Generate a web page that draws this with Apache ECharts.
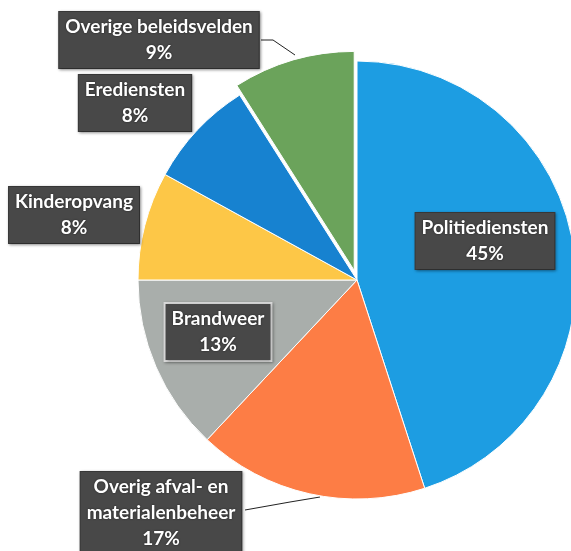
<!DOCTYPE html>
<html>
<head>
<meta charset="utf-8">
<script src="https://cdn.jsdelivr.net/npm/echarts@6/dist/echarts.min.js"></script>
<style>
html,body{margin:0;padding:0;background:#fff;}
#chart{width:571px;height:551px;}
</style>
</head>
<body>
<div id="chart"></div>
<script>
const categories = ['Politiediensten', 'Overig afval- en\nmaterialenbeheer', 'Brandweer', 'Kinderopvang', 'Erediensten', 'Overige beleidsvelden'];
const values = [45, 17, 13, 8, 8, 9];
const colors = ['#1d9de2', '#fd7d45', '#a9aeab', '#fdc747', '#1782d0', '#6ba35b'];
const explodedIndex = 5;

// label centre positions (px) and leader lines
const labelCenters = [[485, 241], [161, 513], [218, 332], [74, 215], [135, 103], [159, 40]];
const leaderLines = {
  1: [[320, 497], [290, 502], [245, 510]],
  5: [[295, 55], [273, 40], [261, 40]]
};

const CX = 357, CY = 280, R = 219, EXPLODE = 10;

// mid-angle of exploded slice (clockwise from 12 o'clock)
const total = values.reduce((a, b) => a + b, 0);
let before = 0;
for (let i = 0; i < explodedIndex; i++) before += values[i];
const midFrac = (before + values[explodedIndex] / 2) / total;
const midAng = Math.PI / 2 - midFrac * 2 * Math.PI; // math angle
const dx = EXPLODE * Math.cos(midAng);
const dy = -EXPLODE * Math.sin(midAng);

const chart = echarts.init(document.getElementById('chart'), null, {renderer: 'canvas'});

const mainData = categories.map((name, i) => ({
  name: name,
  value: values[i],
  itemStyle: i === explodedIndex
    ? {color: 'rgba(0,0,0,0)', borderColor: 'rgba(0,0,0,0)', borderWidth: 0}
    : {color: colors[i]},
  labelLine: {show: !!leaderLines[i]},
  label: i === 2 ? {borderColor: '#d8d8d8', borderWidth: 2} : {}
}));

const explodedData = categories.map((name, i) => ({
  name: name,
  value: values[i],
  itemStyle: i === explodedIndex
    ? {color: colors[i]}
    : {color: 'rgba(0,0,0,0)', borderColor: 'rgba(0,0,0,0)', borderWidth: 0}
}));

chart.setOption({
  backgroundColor: '#ffffff',
  animation: false,
  series: [{
    type: 'pie',
    center: [CX + dx, CY + dy],
    radius: R,
    startAngle: 90,
    clockwise: true,
    silent: true,
    itemStyle: {borderColor: '#ffffff', borderWidth: 1},
    label: {show: false},
    labelLine: {show: false},
    data: explodedData,
    z: 1
  }, {
    type: 'pie',
    center: [CX, CY],
    radius: R,
    startAngle: 90,
    clockwise: true,
    avoidLabelOverlap: false,
    itemStyle: {borderColor: '#ffffff', borderWidth: 1},
    label: {
      show: true,
      position: 'outside',
      formatter: '{b}\n{c}%',
      color: '#ffffff',
      fontFamily: 'Lato',
      fontWeight: 'bold',
      fontSize: 19,
      lineHeight: 26,
      align: 'center',
      backgroundColor: '#484848',
      borderColor: '#3a3a3a',
      borderWidth: 1,
      padding: [2, 6],
      shadowColor: 'rgba(0,0,0,0.35)',
      shadowBlur: 3,
      shadowOffsetX: 1,
      shadowOffsetY: 1,
      textShadowColor: 'rgba(0,0,0,0.6)',
      textShadowBlur: 2
    },
    labelLine: {
      show: true,
      lineStyle: {color: '#222', width: 1}
    },
    labelLayout: function (params) {
      const i = params.dataIndex;
      const c = labelCenters[i];
      const res = {x: c[0], y: c[1], align: 'center', verticalAlign: 'middle'};
      if (leaderLines[i]) res.labelLinePoints = leaderLines[i];
      return res;
    },
    data: mainData,
    z: 2
  }]
});
</script>
</body>
</html>
